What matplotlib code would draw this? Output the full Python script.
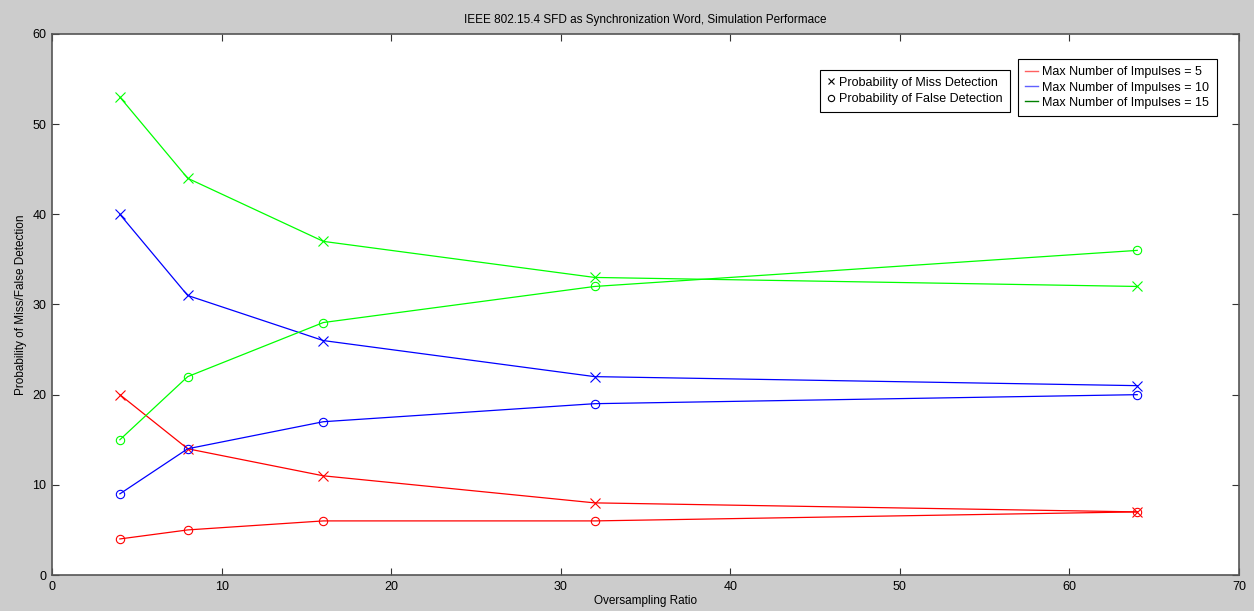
import matplotlib
matplotlib.use("Agg")
import matplotlib.pyplot as plt
from matplotlib.lines import Line2D

plt.rcParams["font.family"] = ["Liberation Sans", "DejaVu Sans"]

ratio = [4, 8, 16, 32, 64]

# Miss detection (x) and false detection (o), per max number of impulses
miss_5 = [20, 14, 11, 8, 7]
false_5 = [4, 5, 6, 6, 7]
miss_10 = [40, 31, 26, 22, 21]
false_10 = [9, 14, 17, 19, 20]
miss_15 = [53, 44, 37, 33, 32]
false_15 = [15, 22, 28, 32, 36]

series = [
    (miss_5, false_5, "#ff0000", "#ff6060", "Max Number of Impulses = 5"),
    (miss_10, false_10, "#0000ff", "#6060ff", "Max Number of Impulses = 10"),
    (miss_15, false_15, "#00ff00", "#008000", "Max Number of Impulses = 15"),
]

fig = plt.figure(figsize=(12.54, 6.11), dpi=100, facecolor="#cccccc")
ax = fig.add_axes([0.0415, 0.0589, 0.9465, 0.8855])

for miss, false, col, _, _ in series:
    ax.plot(ratio, miss, color=col, lw=0.9, marker="x", ms=7, mew=0.8)
    ax.plot(ratio, false, color=col, lw=0.9, marker="o", ms=6, mew=0.8,
            mfc="none")

ax.set_xlim(0, 70)
ax.set_ylim(0, 60)
ax.set_xticks(range(0, 71, 10))
ax.set_yticks(range(0, 61, 10))
ax.tick_params(direction="in", top=True, right=True, length=5,
               labelsize=9, width=0.8, color="#333333", pad=4)
for sp in ax.spines.values():
    sp.set_color("#555555")
    sp.set_linewidth(1.2)

ax.set_title("IEEE 802.15.4 SFD as Synchronization Word, Simulation Performace",
             fontsize=8.5, pad=8)
ax.set_xlabel("Oversampling Ratio", fontsize=8.5, labelpad=2)
ax.set_ylabel("Probability of Miss/False Detection", fontsize=8.5, labelpad=4)

# marker legend
marker_handles = [
    Line2D([], [], ls="none", marker="x", color="black", ms=5, mew=0.8),
    Line2D([], [], ls="none", marker="o", color="black", mfc="none", ms=4.5,
           mew=0.8),
]
leg1 = ax.legend(marker_handles,
                 ["Probability of Miss Detection",
                  "Probability of False Detection"],
                 loc="upper left", bbox_to_anchor=(0.647, 0.9335),
                 fontsize=9, frameon=True, fancybox=False, edgecolor="black",
                 handlelength=0.6, handletextpad=0.4, borderpad=0.55,
                 labelspacing=0.35, framealpha=1, borderaxespad=0)
leg1.get_frame().set_linewidth(0.8)
ax.add_artist(leg1)

# colour legend
line_handles = [Line2D([], [], color=c, lw=1) for _, _, _, c, _ in series]
leg2 = ax.legend(line_handles, [s[4] for s in series],
                 loc="upper left", bbox_to_anchor=(0.8138, 0.9538),
                 fontsize=9, frameon=True, fancybox=False, edgecolor="black",
                 handlelength=1.0, handletextpad=0.35, borderpad=0.6,
                 labelspacing=0.25, framealpha=1, borderaxespad=0)
leg2.get_frame().set_linewidth(0.8)

fig.savefig("out.png", dpi=100, facecolor=fig.get_facecolor())
